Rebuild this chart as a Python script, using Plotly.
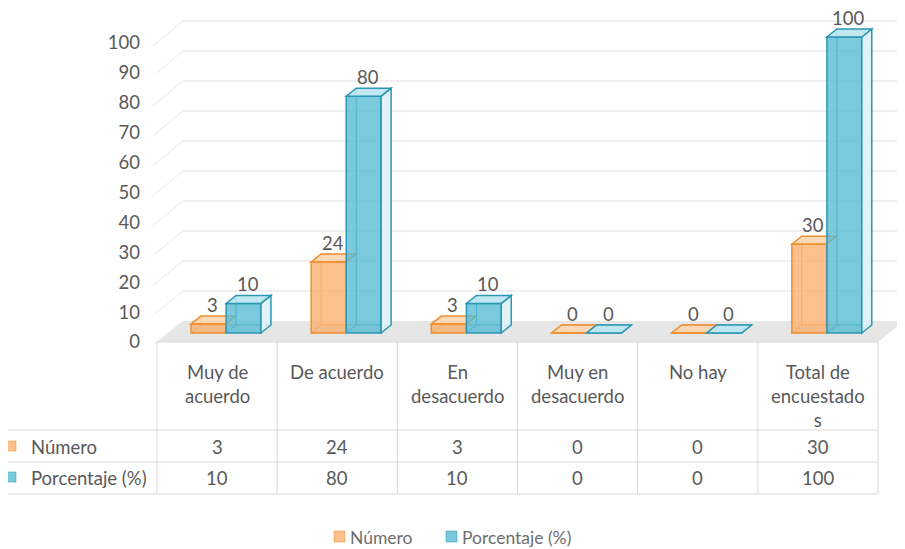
import plotly.graph_objects as go

# ---------------- data ----------------
categories = ["Muy de acuerdo", "De acuerdo", "En desacuerdo",
              "Muy en desacuerdo", "No hay", "Total de encuestados"]
header_labels = ["Muy de<br>acuerdo", "De acuerdo", "En<br>desacuerdo",
                 "Muy en<br>desacuerdo", "No hay", "Total de<br>encuestado<br>s"]
numero = [3, 24, 3, 0, 0, 30]
porcentaje = [10, 80, 10, 0, 0, 100]
series_names = ["Número", "Porcentaje (%)"]
y_ticks = [0, 10, 20, 30, 40, 50, 60, 70, 80, 90, 100]

# ---------------- style / geometry ----------------
OX, OY = 8, 8                 # page body margin
W, H = 905 - OX, 549 - OY
FONT = "Lato"
FS = 18.5
TXT = "#595959"
GRID = "#EBEBEB"
TABLE_LINE = "#D9D9D9"

OR_FILL = "rgba(250,176,110,0.80)"
OR_LINE = "#EE8F2E"
OR_TOP = "rgba(252,214,176,0.90)"
BL_FILL = "rgba(84,186,212,0.78)"
BL_LINE = "#2C97B2"
BL_TOP = "rgba(186,228,238,0.90)"
BL_SIDE = "rgba(222,242,247,0.90)"


def px(x):
    return (x - OX) / W


def py(y):
    return 1 - (y - OY) / H


X_L, X_R = 157, 878
CAT_W = (X_R - X_L) / len(categories)
BAR_Y0, K = 333, 2.96          # pixel of value 0, px per unit (bars)
Y_RANGE = [-10, 108]
DOM_BOT = BAR_Y0 - Y_RANGE[0] * K
DOM_TOP = BAR_Y0 - Y_RANGE[1] * K
DX = 10 / CAT_W
DY = 8 / K
BAR_W = 0.29
OFFS = [-0.217, 0.075]

LBL_Y0, LK = 342, 2.99         # tick-label scale (front plane)
lab_range = [(LBL_Y0 - DOM_BOT) / LK, (LBL_Y0 - DOM_TOP) / LK]

idx = list(range(len(categories)))

fig = go.Figure()
series = [numero, porcentaje]
fills = [OR_FILL, BL_FILL]
lines = [OR_LINE, BL_LINE]
for s, name in enumerate(series_names):
    fig.add_trace(go.Bar(
        x=idx, y=series[s], name=name, offset=OFFS[s], width=BAR_W,
        marker=dict(color=fills[s], line=dict(color=lines[s], width=1.5)),
        hovertext=categories, showlegend=False,
    ))
# carrier trace so the tick-label axis is drawn
fig.add_trace(go.Scatter(x=[None], y=[None], yaxis="y2", showlegend=False, hoverinfo="skip"))

shapes = []
# floor
shapes.append(dict(type="path", xref="paper", yref="paper", layer="below",
                   path=f"M{px(X_L)},{py(342)} L{px(X_R)},{py(342)} L{px(904)},{py(321)} L{px(183)},{py(321)} Z",
                   fillcolor="#E6E6E6", line=dict(width=0)))
# back wall grid + side wall diagonals
for v in y_ticks:
    yb = 321 - 3.0 * v
    yf = LBL_Y0 - LK * v
    if v > 0:
        shapes.append(dict(type="line", xref="paper", yref="paper", layer="below",
                           x0=px(183), x1=px(904), y0=py(yb), y1=py(yb),
                           line=dict(color=GRID, width=1.6)))
    shapes.append(dict(type="line", xref="paper", yref="paper", layer="below",
                       x0=px(X_L - 4), x1=px(183), y0=py(yf + 3), y1=py(yb),
                       line=dict(color="#F0F0F0", width=1.2)))

# 3D faces of bars
for s in range(2):
    for i, v in enumerate(series[s]):
        x0 = i + OFFS[s]
        x1 = x0 + BAR_W
        shapes.append(dict(type="path", xref="x", yref="y", layer="below",
                           path=f"M{x0},{0} L{x0+DX},{DY} L{x1+DX},{DY} M{x0+DX},{DY} L{x0+DX},{v+DY}",
                           line=dict(color=lines[s], width=1)))
        top = dict(type="path", xref="x", yref="y",
                   path=f"M{x0},{v} L{x1},{v} L{x1+DX},{v+DY} L{x0+DX},{v+DY} Z",
                   line=dict(color=lines[s], width=1.5))
        if s == 0:
            top.update(layer="below", fillcolor=OR_TOP)
            shapes.append(top)
        else:
            top.update(layer="above", fillcolor=BL_TOP)
            side = dict(type="path", xref="x", yref="y", layer="above",
                        path=f"M{x1},{0} L{x1+DX},{DY} L{x1+DX},{v+DY} L{x1},{v} Z",
                        fillcolor=BL_SIDE, line=dict(color=lines[s], width=1.5))
            shapes.append(side)
            shapes.append(top)

# table lines
col_x = [X_L + CAT_W * k for k in range(len(categories) + 1)]
for yline, xs in [(342, X_L), (430, 5), (462, 5), (494, 5)]:
    shapes.append(dict(type="line", xref="paper", yref="paper", layer="above",
                       x0=px(xs), x1=px(X_R), y0=py(yline), y1=py(yline),
                       line=dict(color=TABLE_LINE, width=1)))
shapes.append(dict(type="line", xref="paper", yref="paper", x0=px(5), x1=px(5),
                   y0=py(430), y1=py(494), line=dict(color=TABLE_LINE, width=1)))
for cx in col_x:
    shapes.append(dict(type="line", xref="paper", yref="paper", x0=px(cx), x1=px(cx),
                       y0=py(342), y1=py(494), line=dict(color=TABLE_LINE, width=1)))
# keys in table and legend
key_cols = [OR_FILL, BL_FILL]
key_lines = [OR_LINE, BL_LINE]
for r, yc in enumerate([446, 477]):
    shapes.append(dict(type="rect", xref="paper", yref="paper",
                       x0=px(6), x1=px(16), y0=py(yc - 5), y1=py(yc + 5),
                       fillcolor=key_cols[r], line=dict(color=key_lines[r], width=0.5)))
leg_x = [334, 446]
for r in range(2):
    shapes.append(dict(type="rect", xref="paper", yref="paper",
                       x0=px(leg_x[r]), x1=px(leg_x[r] + 11), y0=py(531), y1=py(542),
                       fillcolor=key_cols[r], line=dict(color=key_lines[r], width=0.5)))

annotations = []
# value labels above bars
for s in range(2):
    for i, v in enumerate(series[s]):
        annotations.append(dict(x=i + OFFS[s] + BAR_W / 2, y=v, xref="x", yref="y",
                                text=str(v), showarrow=False, yshift=19, xshift=4,
                                font=dict(family=FONT, size=FS, color=TXT)))
# table header
for k, lab in enumerate(header_labels):
    annotations.append(dict(x=px(X_L + CAT_W * (k + 0.5)), y=py(359), xref="paper", yref="paper",
                            text=lab, showarrow=False, yanchor="top", xanchor="center",
                            align="center", font=dict(family=FONT, size=FS, color=TXT)))
# table rows
for r, yc in enumerate([447, 478]):
    annotations.append(dict(x=px(29), y=py(yc), xref="paper", yref="paper", text=series_names[r],
                            showarrow=False, xanchor="left", yanchor="middle",
                            font=dict(family=FONT, size=FS, color=TXT)))
    for k, v in enumerate(series[r]):
        annotations.append(dict(x=px(X_L + CAT_W * (k + 0.5)), y=py(yc), xref="paper", yref="paper",
                                text=str(v), showarrow=False, xanchor="center", yanchor="middle",
                                font=dict(family=FONT, size=FS, color=TXT)))
# legend
for r in range(2):
    annotations.append(dict(x=px(leg_x[r] + 14), y=py(537), xref="paper", yref="paper",
                            text=series_names[r], showarrow=False, xanchor="left", yanchor="middle",
                            font=dict(family=FONT, size=FS - 1, color="#6E6E6E")))

fig.update_layout(
    width=W, height=H, margin=dict(l=0, r=0, t=0, b=0),
    paper_bgcolor="white", plot_bgcolor="rgba(0,0,0,0)",
    barmode="overlay", showlegend=False,
    font=dict(family=FONT, size=FS, color=TXT),
    xaxis=dict(domain=[px(X_L), px(X_R)], range=[-0.5, len(categories) - 0.5],
               showticklabels=False, showgrid=False, zeroline=False, showline=False),
    yaxis=dict(domain=[py(DOM_BOT), min(1.0, py(DOM_TOP))], range=Y_RANGE, showticklabels=False,
               showgrid=False, zeroline=False, showline=False),
    yaxis2=dict(overlaying="y", anchor="free", position=px(140), range=lab_range,
                tickvals=y_ticks, ticktext=[str(t) for t in y_ticks], ticks="",
                showgrid=False, zeroline=False, showline=False,
                tickfont=dict(family=FONT, size=FS, color=TXT)),
    shapes=shapes, annotations=annotations,
)
fig.write_html("out.html")
